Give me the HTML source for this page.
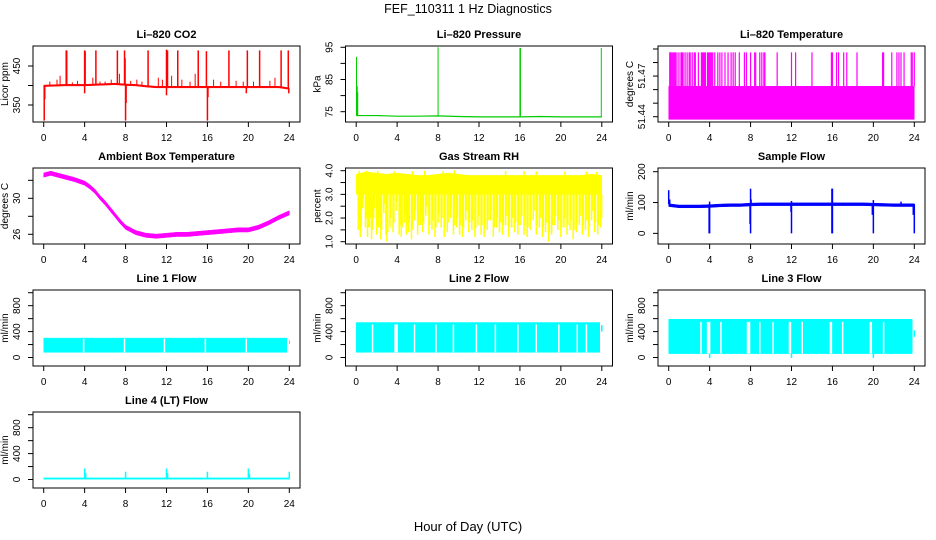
<!DOCTYPE html>
<html><head><meta charset="utf-8">
<style>
html,body{margin:0;padding:0;background:#fff;}
svg{display:block;font-family:"Liberation Sans",Arial,sans-serif;}
</style></head>
<body>
<svg id="chart" width="936" height="540" viewBox="0 0 936 540" xmlns="http://www.w3.org/2000/svg">
<text x="468" y="13" text-anchor="middle" font-size="12.5">FEF_110311  1 Hz Diagnostics</text>
<text x="468" y="531" text-anchor="middle" font-size="13">Hour of Day (UTC)</text>
</svg>
<script>
// ---------- data ----------
const xTicks = [0,4,8,12,16,20,24];
// CO2
const co2BaseHours = [0,1,2,3,4,5,6,7,8,9,10,11,12,13,14,15,16,17,18,19,20,21,22,23,24];
const co2BaseValues = [399,400,401,401,401,402,403,404,402,401,398,396,396,396,396,396,396,396,396,396,396,396,396,396,392];
const co2SpikeHours = [2.2,2.25,4.0,4.05,5.1,7.2,7.9,7.95,10.2,12.0,12.1,13.1,15.1,15.9,18.1,19.9,21.1,23.2,23.9];
const co2SpikeValues = [490,490,490,488,490,490,490,470,490,492,490,490,490,488,490,490,490,490,490];
const co2DipHours = [0.05,0.1,4.0,8.0,8.05,12.0,16.0,16.05,19.8,23.95];
const co2DipValues = [310,365,380,310,355,375,310,370,380,380];
const co2SmallHours = [0.6,1.3,1.6,2.8,3.3,4.8,5.5,6.0,6.6,7.4,8.5,9.1,9.6,11.2,11.6,12.5,13.5,14.3,14.8,16.6,17.3,18.8,19.5,20.5,22.1,22.6];
const co2SmallValues = [410,415,425,408,412,420,410,410,415,430,412,415,410,420,415,425,415,410,430,415,410,412,410,410,412,420];
// Pressure
const presBaseHours = [0,2,4,6,8,10,12,14,16,18,20,22,24];
const presBaseValues = [73.8,73.8,73.6,73.6,73.7,73.5,73.4,73.4,73.4,73.5,73.4,73.4,73.4];
const presSpikeHours = [0.03,0.1,0.15,8.0,16.0,16.05,23.95];
const presSpikeValues = [92,83,81,95,94.8,94.8,94.8];
// Li-820 temperature
const tempLow = 51.438, tempMid = 51.4625, tempHigh = 51.4875;
const tempSpikeHours = [0.1,0.15,0.2,0.3,0.4,0.5,0.6,0.65,0.8,1.0,1.2,1.3,1.4,1.6,1.8,2.0,2.1,2.3,2.5,2.6,2.9,3.2,3.3,3.4,3.5,3.6,3.8,3.9,4.0,4.1,4.2,4.3,4.5,4.8,5.0,5.2,5.5,5.8,6.1,6.3,6.5,6.9,7.4,7.6,8.0,8.4,8.5,8.9,9.1,9.3,9.4,10.6,12.0,12.4,14.0,15.9,16.0,16.4,16.6,17.1,17.4,18.4,20.9,21.0,21.8,22.3,22.5,22.7,23.0,23.7,23.8,24.0];
// Ambient box temperature
const ambHours = [0,0.7,1,2,3,4,4.5,5,5.5,6,6.5,7,7.5,8,9,10,11,12,13,14,15,16,17,18,19,20,21,22,23,24];
const ambValues = [32.6,32.8,32.7,32.4,32.1,31.7,31.3,30.8,30.1,29.5,28.8,28.1,27.4,26.8,26.2,25.9,25.8,25.9,26.0,26.0,26.1,26.2,26.3,26.4,26.5,26.5,26.8,27.3,27.9,28.4];
// Gas stream RH
const rhTopHours = [0,1,2,3,4,5,6,7,8,9,10,11,12,13,14,15,16,17,18,19,20,21,22,23,24];
const rhTopValues = [3.85,3.95,3.9,3.85,3.9,3.85,3.8,3.8,3.85,3.9,3.85,3.8,3.8,3.8,3.8,3.8,3.8,3.8,3.8,3.8,3.8,3.8,3.8,3.85,3.8];
const rhDipHours = [0.2,0.4,0.6,0.9,1.1,1.3,1.5,1.7,2.0,2.2,2.4,2.7,2.9,3.0,3.3,3.6,3.9,4.2,4.4,4.7,4.9,5.1,5.4,5.7,6.0,6.3,6.5,6.8,7.1,7.4,7.7,8.0,8.3,8.6,8.9,9.2,9.5,9.8,10.1,10.4,10.7,11.0,11.3,11.6,11.9,12.2,12.5,12.8,13.1,13.4,13.7,14.0,14.3,14.6,14.9,15.2,15.5,15.8,16.1,16.4,16.7,17.0,17.3,17.6,17.9,18.2,18.5,18.8,19.1,19.4,19.7,20.0,20.3,20.6,20.9,21.2,21.5,21.8,22.1,22.4,22.7,23.0,23.3,23.6,23.9];
const rhDipValues = [1.5,1.2,2.4,1.6,1.2,1.6,1.1,2.0,1.3,1.6,1.1,2.2,1.3,1.0,1.6,1.4,2.3,1.3,1.2,1.8,1.3,1.4,1.1,1.9,1.3,1.7,1.4,2.1,1.3,1.5,1.2,1.8,1.6,1.2,1.4,2.0,1.3,1.6,1.3,1.2,1.9,1.4,1.5,1.2,1.7,1.3,1.2,1.5,1.9,1.2,1.6,1.4,1.3,1.7,1.2,1.6,1.4,1.3,1.7,1.3,1.2,1.5,1.9,1.3,1.6,1.2,1.4,1.0,1.3,1.7,1.5,1.2,1.6,1.3,1.5,1.1,1.4,1.7,1.3,1.5,1.2,1.9,1.4,1.3,1.6];
const rhUpHours = [0.3,1.0,2.1,3.7,5.5,6.7,8.5,9.6,14.6,16.4,17.6,20.4,22.5,23.5];
const rhUpValues = [4.0,4.0,4.0,3.98,3.98,4.0,3.98,4.02,3.98,3.98,3.96,3.96,3.96,3.95];
// Sample flow
const sfHours = [0,1,2,3,4,5,6,7,8,9,10,11,12,13,14,15,16,17,18,19,20,21,22,23,24];
const sfValues = [92,88,88,88,89,91,92,92,94,95,95,95,95,95,95,95,95,95,95,95,94,93,92,92,92];
const sfDipHours = [3.95,4.0,7.95,8.0,11.95,12.0,15.95,16.0,19.9,20.0,23.9,24.0];
const sfDipValues = [0,0,30,0,70,0,0,0,60,0,60,0];
const sfSpikeHours = [0.0,0.1,4.0,8.0,8.05,12.0,15.95,16.0,20.0,22.7];
const sfSpikeValues = [140,110,103,145,110,105,145,145,108,103];
// Line flows
const l1Low = 80, l1High = 300;
const l1GapHours = [3.9,7.9,11.8,15.8,19.8,23.85,23.9];
const l2Low = 80, l2High = 540;
const l2GapHours = [1.6,3.8,3.9,4.0,5.7,7.8,9.5,11.75,13.6,15.8,17.6,19.8,21.6,22.5];
const l3Low = 60, l3High = 590;
const l3GapHours = [3.15,3.8,3.9,4.0,5.1,7.7,7.8,7.9,8.9,10.2,11.8,11.9,13.05,15.8,15.9,17.0,19.7,19.8,21.0];
const l3DipHours = [4.0,12.0,20.0];
const l3DipValues = [-10,-5,-5];
const l4Base = 15;
const l4SpikeHours = [4.0,4.1,8.0,12.0,12.1,16.0,20.0,20.1,24.0];
const l4SpikeValues = [170,100,120,170,100,120,170,90,120];

// ---------- layout ----------
const NS = "http://www.w3.org/2000/svg";
const svg = document.getElementById('chart');
const colL = [33, 345.5, 658], W = 267;
const rowT = [46, 168, 290, 412], H = 76;
function mk(tag, attrs, parent){const e=document.createElementNS(NS,tag);for(const k in attrs)e.setAttribute(k,attrs[k]);(parent||svg).appendChild(e);return e;}

function panel(name, col, row, title, ytitle, lo, hi, yTicks, yLabels){
  const L = colL[col], T = rowT[row];
  const g = mk('g',{});
  
  
  const X = h => L + 10.7 + h*(W-21.4)/24;
  const Y = v => T + H - (v-lo)/(hi-lo)*H;
  const plot = mk('g',{}, g);
  
  
  const box = mk('rect',{x:L,y:T,width:W,height:H,fill:'none',stroke:'#000','stroke-width':1}, g);
  
  
  const t = mk('text',{x:L+W/2,y:T-8,'text-anchor':'middle','font-size':11,'font-weight':'bold'}, g);
  t.textContent = title;
  
  
  const xa = mk('g',{}, g);
  
  
  xTicks.forEach(h=>{
    mk('line',{x1:X(h),x2:X(h),y1:T+H,y2:T+H+5,stroke:'#000'}, xa);
    const lt = mk('text',{x:X(h),y:T+H+19,'text-anchor':'middle','font-size':10}, xa);
    lt.textContent = h;
  });
  const ya = mk('g',{}, g);
  
  
  yTicks.forEach(v=>mk('line',{x1:L-5,x2:L,y1:Y(v),y2:Y(v),stroke:'#000'}, ya));
  yLabels.forEach(v=>{
    const yy = Y(v);
    const lt = mk('text',{x:L-13,y:yy,'text-anchor':'middle','font-size':10,transform:`rotate(-90 ${L-13} ${yy})`}, ya);
    lt.textContent = name==='li-temp-panel' ? v.toFixed(2) : name==='rh-panel' ? v.toFixed(1) : v;
  });
  const yt = mk('text',{x:L-25,y:T+H/2,'text-anchor':'middle','font-size':10,transform:`rotate(-90 ${L-25} ${T+H/2})`}, g);
  yt.textContent = ytitle;
  
  
  return {X,Y,g:plot};
}
function vline(p,h,v1,v2,color,w){mk('line',{x1:p.X(h),x2:p.X(h),y1:p.Y(v1),y2:p.Y(v2),stroke:color,'stroke-width':w||1}, p.g);}
function poly(p,hs,vs,color,w){mk('polyline',{points:hs.map((h,i)=>p.X(h)+','+p.Y(vs[i])).join(' '),fill:'none',stroke:color,'stroke-width':w||1}, p.g);}
function band(p,hs,top,bot,color){
  const pts = hs.map((h,i)=>p.X(h)+','+p.Y(top[i])).concat(hs.slice().reverse().map((h,j)=>{const i=hs.length-1-j;return p.X(h)+','+p.Y(bot[i]);}));
  mk('polygon',{points:pts.join(' '),fill:color,stroke:color,'stroke-width':0.5}, p.g);
}

// CO2
let p = panel('co2-panel',0,0,'Li\u2013820 CO2','Licor ppm',306.4,501.3,[350,400,450],[350,450]);
band(p,co2BaseHours,co2BaseValues.map(v=>v+2),co2BaseValues.map(v=>v-2),'#ff0000');
co2SpikeHours.forEach((h,i)=>vline(p,h,co2BaseValues[Math.round(h)],co2SpikeValues[i],'#ff0000',1.5));
co2DipHours.forEach((h,i)=>vline(p,h,co2BaseValues[Math.round(h)],co2DipValues[i],'#ff0000',1.5));
co2SmallHours.forEach((h,i)=>vline(p,h,co2BaseValues[Math.round(h)],co2SmallValues[i],'#ff0000',1));

// Pressure
p = panel('pressure-panel',1,0,'Li\u2013820 Pressure','kPa',71.8,95.4,[75,80,85,90,95],[75,85,95]);
poly(p,presBaseHours,presBaseValues,'#00cc00',1.2);
presSpikeHours.forEach((h,i)=>vline(p,h,presBaseValues[Math.round(h/2)],presSpikeValues[i],'#00cc00',1));

// Li temperature
p = panel('li-temp-panel',2,0,'Li\u2013820 Temperature','degrees C',51.4361,51.4922,[51.44,51.45,51.46,51.47,51.48,51.49],[51.44,51.47]);
band(p,[0,24],[tempMid,tempMid],[tempLow,tempLow],'#ff00ff');
tempSpikeHours.forEach(h=>vline(p,h,tempMid,tempHigh,'#ff00ff',1.2));

// Ambient
p = panel('ambient-temp-panel',0,1,'Ambient Box Temperature','degrees C',24.92,33.37,[26,28,30,32],[26,30]);
band(p,ambHours,ambValues.map(v=>v+0.22),ambValues.map(v=>v-0.25),'#ff00ff');

// RH
p = panel('rh-panel',1,1,'Gas Stream RH','percent',0.903,4.114,[1,1.5,2,2.5,3,3.5,4],[1,2,3,4]);
band(p,rhTopHours,rhTopValues,rhTopHours.map(()=>3.0),'#ffff00');
rhDipHours.forEach((h,i)=>vline(p,h,3.0,rhDipValues[i],'#ffff00',1.5));
rhDipHours.forEach((h,i)=>vline(p,h+0.1,3.0,rhDipValues[i]+0.4,'#ffff00',1.2));
rhUpHours.forEach((h,i)=>vline(p,h,3.8,rhUpValues[i],'#ffff00',1.5));

// Sample flow
p = panel('sample-flow-panel',2,1,'Sample Flow','ml/min',-34.5,212,[0,100,200],[0,100,200]);
band(p,sfHours,sfValues.map(v=>v+4),sfValues.map(v=>v-5),'#0000ff');
sfDipHours.forEach((h,i)=>vline(p,h,95,sfDipValues[i],'#0000ff',1.5));
sfSpikeHours.forEach((h,i)=>vline(p,h,95,sfSpikeValues[i],'#0000ff',1.5));

// Line flows
const flowTicks=[0,200,400,600,800,1000], flowLabels=[0,400,800];
p = panel('line1-flow-panel',0,2,'Line 1 Flow','ml/min',-131,1042,flowTicks,flowLabels);
band(p,[0,23.8],[l1High,l1High],[l1Low,l1Low],'#00ffff');
vline(p,24,l1Low+130,l1High-40,'#00ffff',1.5);
l1GapHours.forEach(h=>vline(p,h,l1Low,l1High-10,'#ffffff',1.5));

p = panel('line2-flow-panel',1,2,'Line 2 Flow','ml/min',-131,1042,flowTicks,flowLabels);
band(p,[0,23.8],[l2High,l2High],[l2Low,l2Low],'#00ffff');
vline(p,24,l2High-140,l2High-40,'#00ffff',1.5);
l2GapHours.forEach(h=>vline(p,h,l2Low,l2High-30,'#ffffff',1.5));

p = panel('line3-flow-panel',2,2,'Line 3 Flow','ml/min',-131,1042,flowTicks,flowLabels);
band(p,[0,23.8],[l3High,l3High],[l3Low,l3Low],'#00ffff');
vline(p,24,l3High-270,l3High-170,'#00ffff',1.5);
l3GapHours.forEach(h=>vline(p,h,l3Low,l3High-40,'#ffffff',1.5));
l3DipHours.forEach((h,i)=>vline(p,h,l3Low,l3DipValues[i],'#00ffff',1.5));

p = panel('line4-flow-panel',0,3,'Line 4 (LT) Flow','ml/min',-131,1042,flowTicks,flowLabels);
band(p,[0,24],[l4Base+10,l4Base+10],[l4Base-10,l4Base-10],'#00ffff');
l4SpikeHours.forEach((h,i)=>vline(p,h,l4Base,l4SpikeValues[i],'#00ffff',1.5));
</script>
</body></html>
